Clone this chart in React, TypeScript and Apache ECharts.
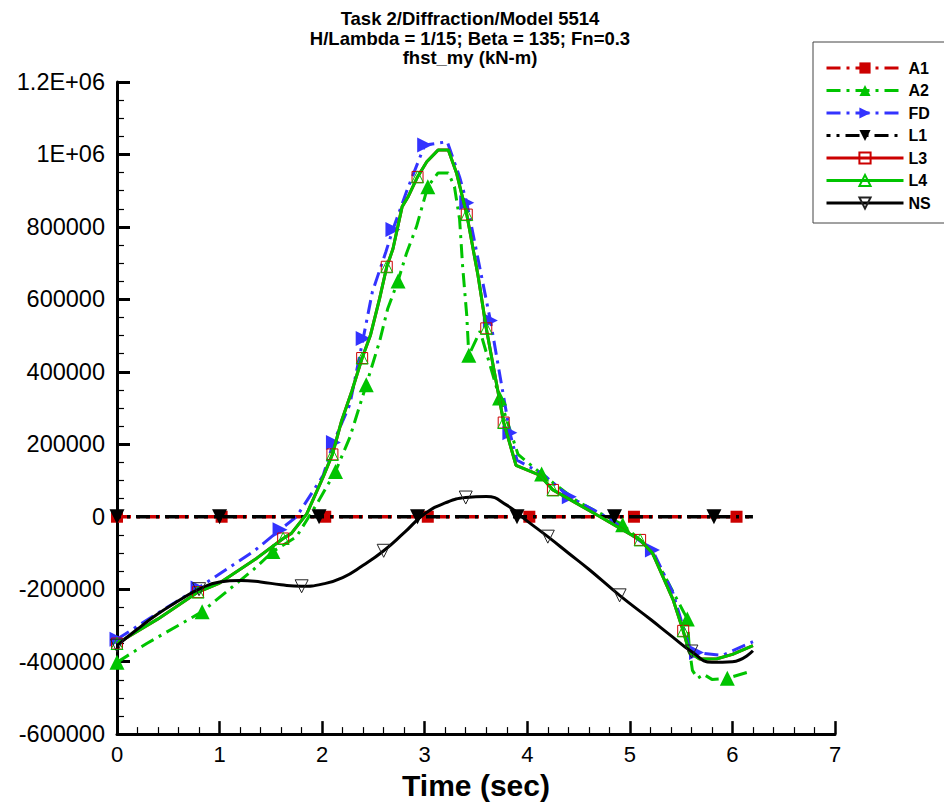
import React, { useEffect, useRef } from 'react';
import * as echarts from 'echarts';

const TITLE_LINES = [
  'Task 2/Diffraction/Model 5514',
  'H/Lambda = 1/15; Beta = 135; Fn=0.3',
  'fhst_my (kN-m)',
];
const X_NAME = 'Time (sec)';
const Y_LABELS: Record<number, string> = { 1200000: '1.2E+06', 1000000: '1E+06' };

// A1 (red dash-dot, filled squares)
const A1_t = [0, 1.02, 2.03, 3.03, 4.02, 5.04, 6.04, 6.2];
const A1_v = [0, 0, 0, 0, 0, 0, 0, 0];
const A1_mk = [0, 1.02, 2.03, 3.03, 4.02, 5.04, 6.04];

// A2 (green dash-dot, filled up triangles)
const A2_t = [0, 0.29, 0.83, 1.33, 1.52, 1.75, 1.95, 2.13, 2.27, 2.43, 2.56, 2.64, 2.74, 2.82, 2.92, 3.03, 3.13, 3.23, 3.29, 3.34, 3.37, 3.41, 3.43, 3.54, 3.73, 3.91, 4.14, 4.5, 4.93, 5.2, 5.34, 5.56, 5.58, 5.61, 5.66, 5.72, 5.8, 5.95, 6.14];
const A2_v = [-402000, -350000, -262000, -146000, -96000, -55000, 36000, 125000, 219000, 364000, 484000, 575000, 651000, 725000, 801000, 911000, 949000, 949000, 911000, 821000, 690000, 555000, 446000, 512000, 328000, 172000, 118000, 40000, -22000, -90000, -164000, -282000, -364000, -424000, -446000, -435000, -449000, -446000, -430000];
const A2_mk = [0, 0.83, 1.52, 2.13, 2.43, 2.74, 3.03, 3.43, 3.73, 4.14, 4.93, 5.56, 5.95];

// FD (blue dash-dot, right triangles)
const FD_t = [0, 0.4, 0.79, 1.33, 1.59, 1.75, 2.01, 2.11, 2.27, 2.4, 2.49, 2.62, 2.69, 2.83, 3.0, 3.22, 3.34, 3.41, 3.64, 3.83, 3.9, 4.15, 4.41, 4.8, 5.22, 5.42, 5.58, 5.65, 5.9, 6.2];
const FD_v = [-338000, -266000, -197000, -96000, -36000, 0, 114000, 205000, 310000, 492000, 621000, 730000, 793000, 903000, 1026000, 1035000, 938000, 867000, 542000, 232000, 156000, 118000, 55000, -5000, -92000, -210000, -361000, -375000, -383000, -345000];
const FD_mk = [0, 0.79, 1.59, 2.11, 2.4, 2.69, 3.0, 3.41, 3.64, 3.83, 4.41, 5.22, 5.65];

// L1 (black dash-dot, filled down triangles)
const L1_t = [0, 1.0, 1.97, 2.93, 3.9, 4.85, 5.82, 6.2];
const L1_v = [0, 0, 0, 0, 0, 0, 0, 0];
const L1_mk = [0, 1.0, 1.97, 2.93, 3.9, 4.85, 5.82];

// L3 (red solid, hollow squares)
const L3_t = [0, 0.4, 0.79, 1.0, 1.36, 1.62, 1.7, 1.85, 2.01, 2.1, 2.19, 2.29, 2.39, 2.47, 2.56, 2.63, 2.69, 2.78, 2.84, 2.93, 3.02, 3.13, 3.23, 3.31, 3.41, 3.52, 3.6, 3.77, 3.89, 4.12, 4.25, 4.71, 5.1, 5.22, 5.42, 5.52, 5.58, 5.68, 5.85, 6.0, 6.2];
const L3_v = [-350000, -282000, -208000, -183000, -115000, -60000, -46000, 8000, 110000, 172000, 265000, 347000, 438000, 500000, 602000, 690000, 739000, 856000, 884000, 938000, 980000, 1012000, 1012000, 949000, 834000, 665000, 520000, 260000, 142000, 115000, 74000, 0, -64000, -100000, -228000, -315000, -374000, -393000, -392000, -380000, -356000];
const L3_mk = [0, 0.79, 1.62, 2.1, 2.39, 2.63, 2.93, 3.41, 3.6, 3.77, 4.25, 5.1, 5.52];

// L4 (green solid, hollow triangles)
const L4_t = [0, 0.4, 0.79, 1.0, 1.36, 1.62, 1.7, 1.85, 2.01, 2.1, 2.19, 2.29, 2.39, 2.47, 2.56, 2.63, 2.69, 2.78, 2.84, 2.93, 3.02, 3.13, 3.23, 3.31, 3.41, 3.52, 3.6, 3.77, 3.89, 4.12, 4.25, 4.71, 5.1, 5.22, 5.42, 5.52, 5.58, 5.68, 5.85, 6.0, 6.2];
const L4_v = [-350000, -282000, -208000, -183000, -115000, -60000, -46000, 8000, 110000, 172000, 265000, 347000, 438000, 500000, 602000, 690000, 739000, 856000, 884000, 938000, 980000, 1012000, 1012000, 949000, 834000, 665000, 520000, 260000, 142000, 115000, 74000, 0, -64000, -100000, -228000, -315000, -374000, -393000, -392000, -380000, -356000];
const L4_mk = [0, 0.79, 1.62, 2.1, 2.39, 2.63, 2.93, 3.41, 3.6, 3.77, 4.25, 5.1, 5.52];

// NS (black solid smooth, hollow down triangles)
const NS_t = [0, 0.2, 0.4, 0.6, 0.8, 1.0, 1.2, 1.4, 1.6, 1.8, 2.0, 2.2, 2.4, 2.6, 2.8, 3.0, 3.2, 3.4, 3.6, 3.8, 4.0, 4.2, 4.4, 4.6, 4.9, 5.2, 5.4, 5.6, 5.8, 6.0, 6.2];
const NS_v = [-356000, -310000, -268000, -232000, -200000, -180000, -176000, -180000, -188000, -192000, -186000, -168000, -134000, -94000, -44000, 8000, 38000, 53000, 56000, 32000, -12000, -55000, -100000, -145000, -217000, -283000, -328000, -372000, -402000, -400000, -370000];
const NS_mk = [0, 0.8, 1.8, 2.6, 3.4, 4.2, 4.9, 5.6];

const RED = '#cc0000';
const GREEN = '#00c400';
const BLUE = '#3333ff';
const BLACK = '#000000';
const FONT = '"Liberation Sans", Arial, Helvetica, sans-serif';
const DASHDOT = [14, 6, 3, 6];

function build(t: number[], v: number[], marks: number[]) {
  return t.map((x, i) =>
    marks.indexOf(x) >= 0 ? { value: [x, v[i]] } : { value: [x, v[i]], symbol: 'none' }
  );
}

export default function App() {
  const ref = useRef<HTMLDivElement>(null);
  useEffect(() => {
    if (!ref.current) return;
    const chart = echarts.init(ref.current, null, { renderer: 'svg' });
    const common = {
      type: 'line',
      showAllSymbol: true,
      silent: true,
      emphasis: { disabled: true },
    };
    const hollow = (c: string) => ({ color: 'rgba(255,255,255,0)', borderColor: c, borderWidth: 1 });
    const series: any[] = [
      {
        ...common, name: 'A1', data: build(A1_t, A1_v, A1_mk),
        symbol: 'rect', symbolSize: 12,
        lineStyle: { color: RED, width: 3.5, type: DASHDOT },
        itemStyle: { color: RED }, z: 2,
      },
      {
        ...common, name: 'A2', data: build(A2_t, A2_v, A2_mk),
        symbol: 'triangle', symbolSize: 15,
        lineStyle: { color: GREEN, width: 3, type: DASHDOT },
        itemStyle: { color: GREEN }, z: 3,
      },
      {
        ...common, name: 'FD', data: build(FD_t, FD_v, FD_mk),
        symbol: 'triangle', symbolSize: 15, symbolRotate: -90,
        lineStyle: { color: BLUE, width: 3, type: DASHDOT },
        itemStyle: { color: BLUE }, z: 3,
      },
      {
        ...common, name: 'L1', data: build(L1_t, L1_v, L1_mk),
        symbol: 'triangle', symbolSize: 15, symbolRotate: 180,
        lineStyle: { color: BLACK, width: 3.5, type: DASHDOT, dashOffset: 10 },
        itemStyle: { color: BLACK }, z: 3,
      },
      {
        ...common, name: 'L3', data: build(L3_t, L3_v, L3_mk),
        symbol: 'rect', symbolSize: 11,
        lineStyle: { color: RED, width: 3, type: 'solid' },
        itemStyle: hollow(RED), z: 4,
      },
      {
        ...common, name: 'L4', data: build(L4_t, L4_v, L4_mk),
        symbol: 'triangle', symbolSize: 12,
        lineStyle: { color: GREEN, width: 3, type: 'solid' },
        itemStyle: hollow(GREEN), z: 4,
      },
      {
        ...common, name: 'NS', data: build(NS_t, NS_v, NS_mk),
        symbol: 'triangle', symbolSize: 13, symbolRotate: 180, smooth: 0.5,
        lineStyle: { color: BLACK, width: 3, type: 'solid' },
        itemStyle: hollow('#222'), z: 5,
      },
    ];

    chart.setOption({
      animation: false,
      backgroundColor: '#ffffff',
      textStyle: { fontFamily: FONT },
      graphic: TITLE_LINES.map((s, i) => ({
        type: 'text',
        x: 470,
        y: 18.5 + i * 19.5,
        style: {
          text: s,
          fill: '#000',
          font: `bold 18.5px ${FONT}`,
          textAlign: 'center',
          textVerticalAlign: 'middle',
        },
      })),
      legend: {
        orient: 'vertical',
        left: 813,
        top: 42,
        padding: [18, 40, 12, 12],
        itemWidth: 77,
        itemHeight: 14,
        itemGap: 6.5,
        borderColor: '#444',
        borderWidth: 1,
        lineStyle: { width: 3 },
        textStyle: { fontSize: 16, fontWeight: 'bold', color: '#000', fontFamily: FONT, lineHeight: 14 },
        data: ['A1', 'A2', 'FD', 'L1', 'L3', 'L4', 'NS'],
      },
      grid: { left: 117, right: 109, top: 82, bottom: 65, containLabel: false },
      xAxis: {
        type: 'value',
        min: 0,
        max: 7,
        interval: 1,
        name: X_NAME,
        nameLocation: 'middle',
        nameGap: 30,
        nameTextStyle: { fontSize: 30, fontWeight: 'bold', color: '#000', fontFamily: FONT },
        axisLine: { show: true, onZero: false, lineStyle: { color: '#000', width: 3 } },
        axisTick: { show: true, inside: true, length: 13, lineStyle: { color: '#000', width: 2.5 } },
        minorTick: { show: true, splitNumber: 5, length: 7, lineStyle: { color: '#000', width: 1.2 } },
        axisLabel: { fontSize: 22, color: '#000', margin: 9, fontFamily: FONT },
        splitLine: { show: false },
      },
      yAxis: {
        type: 'value',
        min: -600000,
        max: 1200000,
        interval: 200000,
        axisLine: { show: true, onZero: false, lineStyle: { color: '#000', width: 3 } },
        axisTick: { show: true, inside: true, length: 13, lineStyle: { color: '#000', width: 3 } },
        minorTick: { show: true, splitNumber: 4, length: 7, lineStyle: { color: '#000', width: 1.2 } },
        axisLabel: {
          fontSize: 23.5,
          color: '#000',
          margin: 12,
          fontFamily: FONT,
          formatter: (val: number) => Y_LABELS[val] ?? String(val),
        },
        splitLine: { show: false },
      },
      series,
    });
    return () => chart.dispose();
  }, []);
  return <div ref={ref} style={{ width: 944, height: 805, position: 'absolute', left: 0, top: 0 }} />;
}
